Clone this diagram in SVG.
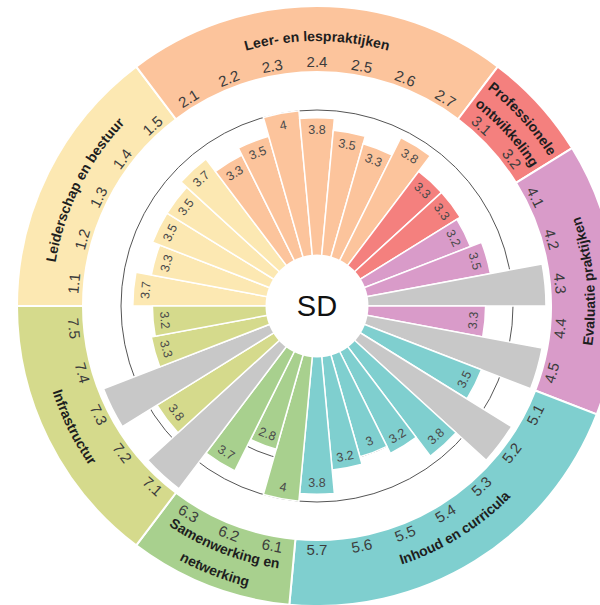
<svg xmlns="http://www.w3.org/2000/svg" xmlns:xlink="http://www.w3.org/1999/xlink" width="600" height="605" viewBox="0 0 600 605">
<style>
.c1{fill:#FCE8B2}.c2{fill:#FCC49C}.c3{fill:#F4807E}.c4{fill:#D99BC9}.c5{fill:#7FCFCF}.c6{fill:#A8D08E}.c7{fill:#D5DA8C}.na{fill:#C8C8C8}
.bar{stroke:#fff;stroke-width:1.5}
.seg{stroke:#fff;stroke-width:2}
.grid{fill:none;stroke:#555;stroke-width:1}
text{font-family:"Liberation Sans",Arial,sans-serif;text-anchor:middle}
.il{font-size:15px;fill:#3c3c3c}
.vl{font-size:12.5px;fill:#4a4a4a}
.cl{font-size:14px;font-weight:bold;fill:#1e1e1e}
.sd{font-size:29px;fill:#111}
</style>
<defs>
<path id="v28" d="M0,0V-149A149,149 0 0 1 27.38,-146.46Z"/>
<path id="v30" d="M0,0V-156.8A156.8,156.8 0 0 1 28.81,-154.13Z"/>
<path id="v32" d="M0,0V-164.6A164.6,164.6 0 0 1 30.25,-161.8Z"/>
<path id="v33" d="M0,0V-168.6A168.6,168.6 0 0 1 30.98,-165.73Z"/>
<path id="v35" d="M0,0V-176.4A176.4,176.4 0 0 1 32.41,-173.4Z"/>
<path id="v37" d="M0,0V-184.2A184.2,184.2 0 0 1 33.85,-181.06Z"/>
<path id="v38" d="M0,0V-188.2A188.2,188.2 0 0 1 34.58,-185Z"/>
<path id="v40" d="M0,0V-196A196,196 0 0 1 36.02,-192.66Z"/>
<path id="vna" d="M0,0V-229A229,229 0 0 1 42.08,-225.1Z"/>
<path id="cw265" d="M-229.5,-132.5A265,265 0 0 1 229.5,-132.5"/>
<path id="cw276" d="M-239.02,-138A276,276 0 0 1 239.02,-138"/>
<path id="cw255" d="M-220.84,-127.5A255,255 0 0 1 220.84,-127.5"/>
<path id="ccw272" d="M-235.56,136A272,272 0 0 0 235.56,136"/>
<path id="ccw278" d="M-240.76,139A278,278 0 0 0 240.76,139"/>
<path id="ccw265" d="M-229.5,132.5A265,265 0 0 0 229.5,132.5"/>
<path id="ccw289" d="M-250.28,144.5A289,289 0 0 0 250.28,144.5"/>
</defs>
<rect width="600" height="605" fill="#fff"/>
<g transform="translate(317,306)">
<g id="gridlines">
<circle class="grid" r="156.8"/>
<circle class="grid" r="196"/>
</g>
<g id="cat-leiderschap">
<path class="c1 seg" d="M-300,0A300,300 0 0 1 -180.79,-239.41L-141.02,-186.74A234,234 0 0 0 -234,0Z"/>
<use href="#v37" class="c1 bar" transform="rotate(270)"/>
<use href="#v33" class="c1 bar" transform="rotate(280.588)"/>
<use href="#v35" class="c1 bar" transform="rotate(291.176)"/>
<use href="#v35" class="c1 bar" transform="rotate(301.765)"/>
<use href="#v37" class="c1 bar" transform="rotate(312.353)"/>
<text class="vl" transform="rotate(275.294)" y="-172.2" dy="0.35em">3.7</text>
<text class="vl" transform="rotate(285.882)" y="-156.6" dy="0.35em">3.3</text>
<text class="vl" transform="rotate(296.471)" y="-164.4" dy="0.35em">3.5</text>
<text class="vl" transform="rotate(307.059)" y="-164.4" dy="0.35em">3.5</text>
<text class="vl" transform="rotate(317.647)" y="-172.2" dy="0.35em">3.7</text>
<text class="il" transform="rotate(275.294)" y="-244" dy="0.35em">1.1</text>
<text class="il" transform="rotate(285.882)" y="-244" dy="0.35em">1.2</text>
<text class="il" transform="rotate(296.471)" y="-244" dy="0.35em">1.3</text>
<text class="il" transform="rotate(307.059)" y="-244" dy="0.35em">1.4</text>
<text class="il" transform="rotate(317.647)" y="-244" dy="0.35em">1.5</text>
<text class="cl" transform="rotate(296.471)"><textPath href="#cw265" startOffset="50%">Leiderschap en bestuur</textPath></text>
</g>
<g id="cat-leer">
<path class="c2 seg" d="M-180.79,-239.41A300,300 0 0 1 180.79,-239.41L141.02,-186.74A234,234 0 0 0 -141.02,-186.74Z"/>
<use href="#v33" class="c2 bar" transform="rotate(322.941)"/>
<use href="#v35" class="c2 bar" transform="rotate(333.529)"/>
<use href="#v40" class="c2 bar" transform="rotate(344.118)"/>
<use href="#v38" class="c2 bar" transform="rotate(354.706)"/>
<use href="#v35" class="c2 bar" transform="rotate(5.294)"/>
<use href="#v33" class="c2 bar" transform="rotate(15.882)"/>
<use href="#v38" class="c2 bar" transform="rotate(26.471)"/>
<text class="vl" transform="rotate(328.235)" y="-156.6" dy="0.35em">3.3</text>
<text class="vl" transform="rotate(338.824)" y="-164.4" dy="0.35em">3.5</text>
<text class="vl" transform="rotate(349.412)" y="-184" dy="0.35em">4</text>
<text class="vl" y="-176.2" dy="0.35em">3.8</text>
<text class="vl" transform="rotate(10.588)" y="-164.4" dy="0.35em">3.5</text>
<text class="vl" transform="rotate(21.176)" y="-156.6" dy="0.35em">3.3</text>
<text class="vl" transform="rotate(31.765)" y="-176.2" dy="0.35em">3.8</text>
<text class="il" transform="rotate(328.235)" y="-244" dy="0.35em">2.1</text>
<text class="il" transform="rotate(338.824)" y="-244" dy="0.35em">2.2</text>
<text class="il" transform="rotate(349.412)" y="-244" dy="0.35em">2.3</text>
<text class="il" y="-244" dy="0.35em">2.4</text>
<text class="il" transform="rotate(10.588)" y="-244" dy="0.35em">2.5</text>
<text class="il" transform="rotate(21.176)" y="-244" dy="0.35em">2.6</text>
<text class="il" transform="rotate(31.765)" y="-244" dy="0.35em">2.7</text>
<text class="cl"><textPath href="#cw265" startOffset="50%">Leer- en lespraktijken</textPath></text>
</g>
<g id="cat-professionele">
<path class="c3 seg" d="M180.79,-239.41A300,300 0 0 1 255.07,-157.93L198.95,-123.19A234,234 0 0 0 141.02,-186.74Z"/>
<use href="#v33" class="c3 bar" transform="rotate(37.059)"/>
<use href="#v33" class="c3 bar" transform="rotate(47.647)"/>
<text class="vl" transform="rotate(42.353)" y="-156.6" dy="0.35em">3.3</text>
<text class="vl" transform="rotate(52.941)" y="-156.6" dy="0.35em">3.3</text>
<text class="il" transform="rotate(42.353)" y="-244" dy="0.35em">3.1</text>
<text class="il" transform="rotate(52.941)" y="-244" dy="0.35em">3.2</text>
<text class="cl" transform="rotate(47.647)"><textPath href="#cw276" startOffset="50%">Professionele</textPath></text>
<text class="cl" transform="rotate(47.647)"><textPath href="#cw255" startOffset="50%">ontwikkeling</textPath></text>
</g>
<g id="cat-evaluatie">
<path class="c4 seg" d="M255.07,-157.93A300,300 0 0 1 279.74,108.37L218.2,84.53A234,234 0 0 0 198.95,-123.19Z"/>
<use href="#v32" class="c4 bar" transform="rotate(58.235)"/>
<use href="#v35" class="c4 bar" transform="rotate(68.824)"/>
<use href="#vna" class="na bar" transform="rotate(79.412)"/>
<use href="#v33" class="c4 bar" transform="rotate(90)"/>
<use href="#vna" class="na bar" transform="rotate(100.588)"/>
<text class="vl" transform="rotate(63.529)" y="-152.6" dy="0.35em">3.2</text>
<text class="vl" transform="rotate(74.118)" y="-164.4" dy="0.35em">3.5</text>
<text class="vl" transform="rotate(-84.706)" y="156.6" dy="0.35em">3.3</text>
<text class="il" transform="rotate(63.529)" y="-244" dy="0.35em">4.1</text>
<text class="il" transform="rotate(74.118)" y="-244" dy="0.35em">4.2</text>
<text class="il" transform="rotate(84.706)" y="-244" dy="0.35em">4.3</text>
<text class="il" transform="rotate(-84.706)" y="244" dy="0.35em">4.4</text>
<text class="il" transform="rotate(-74.118)" y="244" dy="0.35em">4.5</text>
<text class="cl" transform="rotate(-95.294)"><textPath href="#ccw278" startOffset="50%">Evaluatie praktijken</textPath></text>
</g>
<g id="cat-inhoud">
<path class="c5 seg" d="M279.74,108.37A300,300 0 0 1 -27.68,298.72L-21.59,233A234,234 0 0 0 218.2,84.53Z"/>
<use href="#v35" class="c5 bar" transform="rotate(111.176)"/>
<use href="#vna" class="na bar" transform="rotate(121.765)"/>
<use href="#v38" class="c5 bar" transform="rotate(132.353)"/>
<use href="#v32" class="c5 bar" transform="rotate(142.941)"/>
<use href="#v30" class="c5 bar" transform="rotate(153.529)"/>
<use href="#v32" class="c5 bar" transform="rotate(164.118)"/>
<use href="#v38" class="c5 bar" transform="rotate(174.706)"/>
<text class="vl" transform="rotate(-63.529)" y="164.4" dy="0.35em">3.5</text>
<text class="vl" transform="rotate(-42.353)" y="176.2" dy="0.35em">3.8</text>
<text class="vl" transform="rotate(-31.765)" y="152.6" dy="0.35em">3.2</text>
<text class="vl" transform="rotate(-21.176)" y="144.8" dy="0.35em">3</text>
<text class="vl" transform="rotate(-10.588)" y="152.6" dy="0.35em">3.2</text>
<text class="vl" y="176.2" dy="0.35em">3.8</text>
<text class="il" transform="rotate(-63.529)" y="244" dy="0.35em">5.1</text>
<text class="il" transform="rotate(-52.941)" y="244" dy="0.35em">5.2</text>
<text class="il" transform="rotate(-42.353)" y="244" dy="0.35em">5.3</text>
<text class="il" transform="rotate(-31.765)" y="244" dy="0.35em">5.4</text>
<text class="il" transform="rotate(-21.176)" y="244" dy="0.35em">5.5</text>
<text class="il" transform="rotate(-10.588)" y="244" dy="0.35em">5.6</text>
<text class="il" y="244" dy="0.35em">5.7</text>
<text class="cl" transform="rotate(-31.765)"><textPath href="#ccw272" startOffset="50%">Inhoud en curricula</textPath></text>
</g>
<g id="cat-samenwerking">
<path class="c6 seg" d="M-27.68,298.72A300,300 0 0 1 -180.79,239.41L-141.02,186.74A234,234 0 0 0 -21.59,233Z"/>
<use href="#v40" class="c6 bar" transform="rotate(185.294)"/>
<use href="#v28" class="c6 bar" transform="rotate(195.882)"/>
<use href="#v37" class="c6 bar" transform="rotate(206.471)"/>
<text class="vl" transform="rotate(10.588)" y="184" dy="0.35em">4</text>
<text class="vl" transform="rotate(21.176)" y="137" dy="0.35em">2.8</text>
<text class="vl" transform="rotate(31.765)" y="172.2" dy="0.35em">3.7</text>
<text class="il" transform="rotate(10.588)" y="244" dy="0.35em">6.1</text>
<text class="il" transform="rotate(21.176)" y="244" dy="0.35em">6.2</text>
<text class="il" transform="rotate(31.765)" y="244" dy="0.35em">6.3</text>
<text class="cl" transform="rotate(21.176)"><textPath href="#ccw265" startOffset="50%">Samenwerking en</textPath></text>
<text class="cl" transform="rotate(21.176)"><textPath href="#ccw289" startOffset="50%">netwerking</textPath></text>
</g>
<g id="cat-infrastructuur">
<path class="c7 seg" d="M-180.79,239.41A300,300 0 0 1 -300,0L-234,0A234,234 0 0 0 -141.02,186.74Z"/>
<use href="#vna" class="na bar" transform="rotate(217.059)"/>
<use href="#v38" class="c7 bar" transform="rotate(227.647)"/>
<use href="#vna" class="na bar" transform="rotate(238.235)"/>
<use href="#v33" class="c7 bar" transform="rotate(248.824)"/>
<use href="#v32" class="c7 bar" transform="rotate(259.412)"/>
<text class="vl" transform="rotate(52.941)" y="176.2" dy="0.35em">3.8</text>
<text class="vl" transform="rotate(74.118)" y="156.6" dy="0.35em">3.3</text>
<text class="vl" transform="rotate(84.706)" y="152.6" dy="0.35em">3.2</text>
<text class="il" transform="rotate(42.353)" y="244" dy="0.35em">7.1</text>
<text class="il" transform="rotate(52.941)" y="244" dy="0.35em">7.2</text>
<text class="il" transform="rotate(63.529)" y="244" dy="0.35em">7.3</text>
<text class="il" transform="rotate(74.118)" y="244" dy="0.35em">7.4</text>
<text class="il" transform="rotate(84.706)" y="244" dy="0.35em">7.5</text>
<text class="cl" transform="rotate(63.529)"><textPath href="#ccw278" startOffset="50%">Infrastructur</textPath></text>
</g>
<g id="center">
<circle r="51.5" fill="#fff"/>
<text class="sd" dy="0.35em">SD</text>
</g>
</g>
</svg>
